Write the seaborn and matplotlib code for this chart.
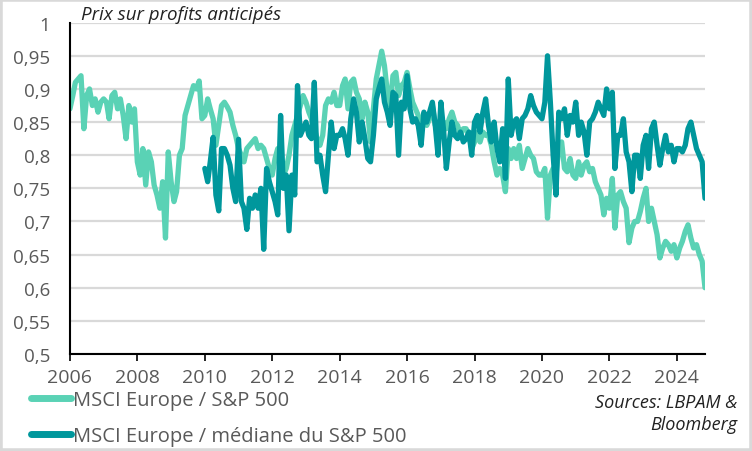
import pandas as pd
import seaborn as sns
import matplotlib.pyplot as plt
import matplotlib.dates as mdates
from matplotlib.ticker import FuncFormatter
from matplotlib.patches import Rectangle

# Monthly readings of the forward P/E ratios
europe_sp500 = [
    # 2006
    0.87, 0.89, 0.91, 0.915, 0.92, 0.84, 0.89, 0.90, 0.875, 0.885, 0.865, 0.88,
    # 2007
    0.885, 0.88, 0.855, 0.89, 0.895, 0.87, 0.885, 0.86, 0.825, 0.875, 0.85, 0.87,
    # 2008
    0.79, 0.77, 0.81, 0.755, 0.805, 0.79, 0.755, 0.74, 0.72, 0.76, 0.675, 0.805,
    # 2009
    0.76, 0.73, 0.745, 0.80, 0.81, 0.86, 0.875, 0.89, 0.905, 0.90, 0.912, 0.855,
    # 2010
    0.86, 0.885, 0.87, 0.855, 0.815, 0.845, 0.875, 0.88, 0.873, 0.865, 0.845, 0.83,
    # 2011
    0.81, 0.80, 0.79, 0.81, 0.815, 0.82, 0.825, 0.81, 0.815, 0.81, 0.795, 0.78,
    # 2012
    0.77, 0.795, 0.81, 0.785, 0.77, 0.78, 0.80, 0.83, 0.845, 0.86, 0.875, 0.89,
    # 2013
    0.88, 0.865, 0.855, 0.84, 0.825, 0.815, 0.83, 0.875, 0.885, 0.88, 0.895, 0.875,
    # 2014
    0.875, 0.905, 0.915, 0.87, 0.91, 0.915, 0.895, 0.885, 0.855, 0.88, 0.865, 0.82,
    # 2015
    0.87, 0.915, 0.935, 0.957, 0.935, 0.895, 0.875, 0.92, 0.925, 0.89, 0.905, 0.91,
    # 2016
    0.925, 0.90, 0.88, 0.87, 0.86, 0.85, 0.85, 0.845, 0.855, 0.875, 0.845, 0.84,
    # 2017
    0.845, 0.85, 0.84, 0.855, 0.865, 0.85, 0.845, 0.83, 0.84, 0.84, 0.83, 0.81,
    # 2018
    0.82, 0.835, 0.82, 0.835, 0.83, 0.83, 0.815, 0.79, 0.77, 0.78, 0.77, 0.745,
    # 2019
    0.81, 0.795, 0.81, 0.795, 0.815, 0.78, 0.795, 0.81, 0.80, 0.795, 0.775, 0.77,
    # 2020
    0.77, 0.78, 0.705, 0.77, 0.78, 0.77, 0.81, 0.82, 0.78, 0.775, 0.795, 0.77,
    # 2021
    0.765, 0.79, 0.77, 0.785, 0.79, 0.775, 0.78, 0.76, 0.75, 0.74, 0.71, 0.735,
    # 2022
    0.72, 0.765, 0.69, 0.74, 0.745, 0.73, 0.72, 0.668, 0.69, 0.70, 0.70, 0.715,
    # 2023
    0.735, 0.75, 0.70, 0.72, 0.70, 0.68, 0.645, 0.66, 0.67, 0.665, 0.655, 0.665,
    # 2024
    0.645, 0.66, 0.67, 0.685, 0.695, 0.675, 0.66, 0.665, 0.65, 0.64, 0.60,
]

europe_median = [
    # 2010
    0.78, 0.76, 0.79, 0.827, 0.74, 0.716, 0.81, 0.81, 0.80, 0.785, 0.75, 0.73,
    # 2011
    0.824, 0.73, 0.72, 0.688, 0.735, 0.72, 0.74, 0.72, 0.75, 0.658, 0.78, 0.76,
    # 2012
    0.745, 0.73, 0.71, 0.86, 0.75, 0.77, 0.686, 0.77, 0.74, 0.905, 0.83, 0.84,
    # 2013
    0.85, 0.83, 0.825, 0.91, 0.79, 0.80, 0.77, 0.745, 0.80, 0.85, 0.81, 0.83,
    # 2014
    0.83, 0.84, 0.825, 0.80, 0.855, 0.885, 0.865, 0.82, 0.85, 0.825, 0.795, 0.79,
    # 2015
    0.83, 0.885, 0.90, 0.915, 0.88, 0.865, 0.845, 0.895, 0.89, 0.80, 0.88, 0.87,
    # 2016
    0.92, 0.87, 0.85, 0.855, 0.845, 0.815, 0.865, 0.85, 0.865, 0.88, 0.845, 0.80,
    # 2017
    0.88, 0.835, 0.78, 0.82, 0.85, 0.83, 0.825, 0.835, 0.82, 0.825, 0.835, 0.80,
    # 2018
    0.85, 0.86, 0.835, 0.865, 0.885, 0.845, 0.82, 0.85, 0.81, 0.79, 0.84, 0.765,
    # 2019
    0.915, 0.83, 0.85, 0.855, 0.825, 0.855, 0.86, 0.87, 0.89, 0.875, 0.865, 0.86,
    # 2020
    0.855, 0.88, 0.95, 0.88, 0.80, 0.74, 0.865, 0.855, 0.87, 0.83, 0.86, 0.85,
    # 2021
    0.88, 0.83, 0.85, 0.835, 0.80, 0.85, 0.855, 0.865, 0.88, 0.87, 0.86, 0.90,
    # 2022
    0.87, 0.895, 0.78, 0.83, 0.83, 0.855, 0.805, 0.79, 0.745, 0.80, 0.80, 0.765,
    # 2023
    0.815, 0.83, 0.78, 0.84, 0.85, 0.815, 0.785, 0.81, 0.83, 0.805, 0.815, 0.79,
    # 2024
    0.81, 0.81, 0.805, 0.815, 0.84, 0.85, 0.83, 0.81, 0.80, 0.79, 0.735,
]

dates_sp500 = pd.date_range('2006-01-01', periods=len(europe_sp500), freq='MS')
dates_median = pd.date_range('2010-01-01', periods=len(europe_median), freq='MS')

label_sp500 = 'MSCI Europe / S&P 500'
label_median = 'MSCI Europe / médiane du S&P 500'
light = '#5AD2B5'
dark = '#00979C'
grey_txt = '#595959'

sns.set_theme(style='white')
plt.rcParams['font.family'] = ['Open Sans', 'DejaVu Sans']

fig = plt.figure(figsize=(7.52, 4.52), dpi=100)
ax = fig.add_axes([0.093, 0.2146, 0.8445, 0.733])

df1 = pd.DataFrame({'date': dates_sp500, 'ratio': europe_sp500})
df2 = pd.DataFrame({'date': dates_median, 'ratio': europe_median})
sns.lineplot(data=df1, x='date', y='ratio', ax=ax, color=light, linewidth=3.8,
             label=label_sp500, solid_joinstyle='round')
sns.lineplot(data=df2, x='date', y='ratio', ax=ax, color=dark, linewidth=3.8,
             label=label_median, solid_joinstyle='round')

ax.set_ylim(0.5, 1.0)
ax.set_yticks([0.5 + 0.05 * i for i in range(11)])
ax.yaxis.set_major_formatter(FuncFormatter(
    lambda v, p: f'{v:.2f}'.rstrip('0').rstrip('.').replace('.', ',')))
ax.set_xlim(pd.Timestamp('2006-01-01'), dates_sp500[-1])
ax.set_xticks([pd.Timestamp(f'{y}-01-01') for y in range(2006, 2025, 2)])
ax.xaxis.set_major_formatter(mdates.DateFormatter('%Y'))
ax.set_xlabel('')
ax.set_ylabel('')

ax.grid(axis='y', color='#D9D9D9', linewidth=1.6)
ax.set_axisbelow(True)
for s in ['top', 'right']:
    ax.spines[s].set_visible(False)
for s in ['left', 'bottom']:
    ax.spines[s].set_color('black')
    ax.spines[s].set_linewidth(1.5)
ax.tick_params(axis='x', which='major', bottom=True, length=5, width=1.2,
               color='black', labelsize=14, labelcolor=grey_txt, pad=5)
ax.tick_params(axis='y', left=False, labelsize=13.5, labelcolor=grey_txt, pad=8)

ax.text(0.018, 1.0, 'Prix sur profits anticipés', transform=ax.transAxes,
        fontsize=13.5, style='italic', color='#222222', va='bottom', ha='left')

leg = ax.legend(loc='upper left', bbox_to_anchor=(-0.062, -0.11), frameon=False,
                fontsize=14.5, handlelength=2.0, handletextpad=0.1,
                labelspacing=0.78, borderaxespad=0, borderpad=0)
for t in leg.get_texts():
    t.set_color(grey_txt)
for h in leg.get_lines():
    h.set_linewidth(5)

fig.text(0.98, 0.084, 'Sources: LBPAM &\nBloomberg', ha='right', va='center',
         fontsize=13, style='italic', color='#222222', linespacing=1.25)

fig.patches.append(Rectangle((0, 0), 1, 1, transform=fig.transFigure, fill=False,
                             edgecolor='#D9D9D9', linewidth=4))

fig.savefig('out.png', dpi=100)
